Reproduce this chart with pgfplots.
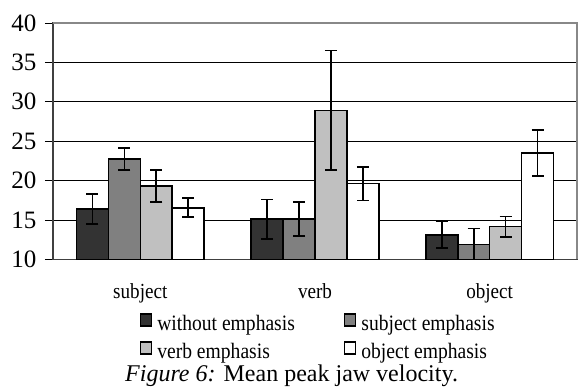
\documentclass[border=0pt]{standalone}
\usepackage{pgfplots}
\pgfplotsset{compat=1.18}
\usepackage{fontspec}
\setmainfont{Liberation Serif}
\newfontfamily\condfont{Liberation Serif}[FakeStretch=0.89]
\definecolor{cA}{HTML}{333333}
\definecolor{cB}{HTML}{808080}
\definecolor{cC}{HTML}{C0C0C0}
\definecolor{cD}{HTML}{FFFFFF}
\definecolor{frame}{HTML}{888888}

\pgfplotstableread{
x y e
0 16.4 1.9
1 15.1 2.5
2 13.1 1.7
}\without
\pgfplotstableread{
x y e
0 22.75 1.4
1 15.1 2.15
2 11.9 2.0
}\subj
\pgfplotstableread{
x y e
0 19.3 2.0
1 28.9 7.6
2 14.15 1.3
}\verbemph
\pgfplotstableread{
x y e
0 16.55 1.2
1 19.6 2.15
2 23.5 2.9
}\obj

\pgfplotsset{
  mybar/.style={draw=black, line width=1.6pt,
    legend image code/.code={\draw[##1, line width=1.8pt] (0pt,-0.5pt) rectangle (11pt,11.5pt);},
    error bars/y dir=both, error bars/y explicit,
    error bars/error bar style={line width=1.6pt, black},
    error bars/error mark options={rotate=90, mark size=6pt, line width=1.6pt, black}},
}

\begin{document}
\begin{tikzpicture}[x=1pt,y=1pt]
\useasboundingbox (0,0) rectangle (578,389);
\begin{axis}[
  at={(53pt,129.7pt)}, anchor=south west,
  scale only axis, width=524pt, height=236.3pt,
  ybar=0pt, bar width=31.9pt,
  ymin=10, ymax=40, ytick={10,15,...,40},
  xmin=-0.5, xmax=2.5,
  xtick=\empty,
  minor xtick={-0.5,0.5,1.5,2.5},
  extra x ticks={0,1,2}, extra x tick labels={subject,verb,object},
  extra x tick style={major tick length=0pt, grid=none},
  tick align=outside,
  major tick length=8pt, minor tick length=6pt,
  xtick style={black!80, line width=0.8pt},
  ytick style={black, line width=0.8pt},
  ymajorgrids, major grid style={black, line width=0.7pt},
  axis line style={black!75, line width=1.2pt},
  /pgf/number format/assume math mode=true,
  yticklabel style={font=\fontsize{25}{25}\selectfont, xshift=-5pt},
  xticklabel style={font=\condfont\fontsize{21.5}{22}\selectfont, anchor=base, yshift=-39.5pt},
  legend columns=2,
  legend cell align=left,
  legend style={draw=none, fill=none, inner sep=0pt, row sep=5pt,
    at={(axis description cs:0.1647,-0.228)}, anchor=north west,
    font=\condfont\fontsize{22}{22}\selectfont,
    nodes={inner sep=0pt, text height=15pt, text depth=5pt},
    /tikz/every odd column/.append style={column sep=5pt},
    /tikz/every even column/.append style={column sep=48.7pt}},
  after end axis/.code={\draw[frame, line width=2pt] (rel axis cs:0,1) -- (rel axis cs:1,1) -- (rel axis cs:1,0);},
]
\addplot[fill=cA, mybar] table[x=x, y=y, y error=e] {\without};
\addlegendentry{without emphasis}
\addplot[fill=cB, mybar] table[x=x, y=y, y error=e] {\subj};
\addlegendentry{subject emphasis}
\addplot[fill=cC, mybar] table[x=x, y=y, y error=e] {\verbemph};
\addlegendentry{verb emphasis}
\addplot[fill=cD, mybar] table[x=x, y=y, y error=e] {\obj};
\addlegendentry{object emphasis}
\end{axis}
\node[anchor=base west, inner sep=0pt, font=\fontsize{24}{24}\selectfont] at (125,7.3) {\textit{Figure 6:} Mean peak jaw velocity.};
\end{tikzpicture}
\end{document}
